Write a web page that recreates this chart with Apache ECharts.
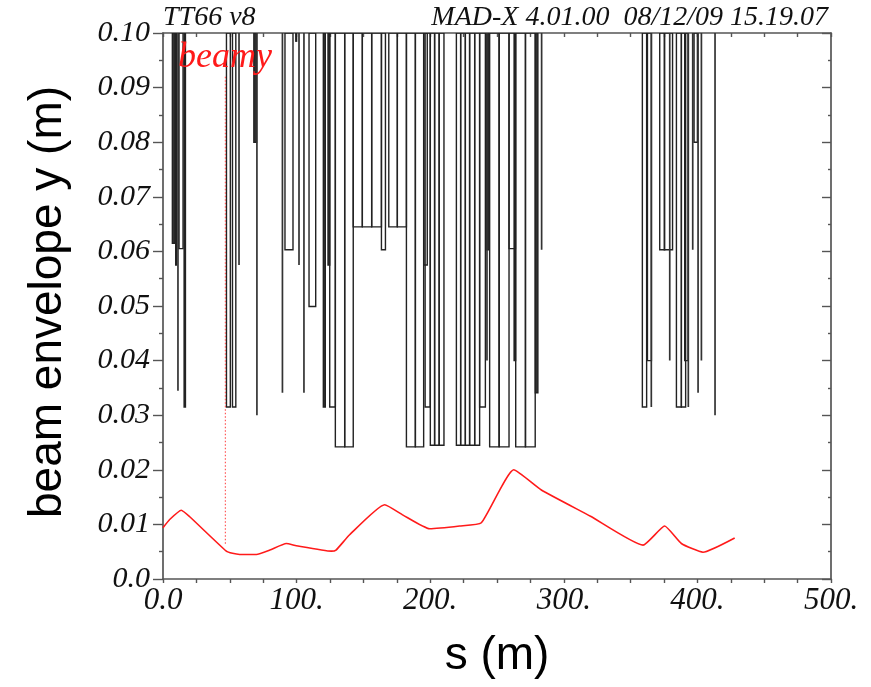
<!DOCTYPE html>
<html>
<head>
<meta charset="utf-8">
<title>TT66 v8 beam envelope y</title>
<script src="https://cdn.jsdelivr.net/npm/echarts@6/dist/echarts.min.js"></script>
<style>
  html, body { margin: 0; padding: 0; background: #fff; }
  #chart { width: 871px; height: 687px; }
</style>
</head>
<body>
<div id="chart"></div>
<script>
// Axis ranges
const sRange = [0, 500];
const yRange = [0, 0.1];

// Beam envelope (beamy) along the line: s (m) and envelope (m)
const beamS = [0, 5, 13.7, 20, 47.4, 52, 57.4, 69.9, 80, 92.3, 99.8, 126, 129.5, 139.7, 165.9, 179.7, 199.6, 222, 238.3, 262.5, 283.2, 320, 359.3, 375.5, 388, 404.2, 427.9];
const beamY = [0.0094, 0.0109, 0.0126, 0.0114, 0.0051, 0.0047, 0.0045, 0.0045, 0.0053, 0.0065, 0.0061, 0.0051, 0.0053, 0.0081, 0.0136, 0.0117, 0.0092, 0.0097, 0.0103, 0.0200, 0.0163, 0.0115, 0.0062, 0.0097, 0.0065, 0.0049, 0.0075];

// Element apertures: start s, end s (m), half aperture y (m)
const apStart = [7.0, 9.5, 11.2, 12.0, 15.8,
  47.5, 52.0, 56.9, 68.0, 70.3,
  89.4, 91.3, 99.4, 101.8, 105.5, 109.3, 120.0, 123.5, 124.8, 129.0, 136.0,
  142.4, 149.2, 156.2, 163.5, 169.0, 175.4, 182.2, 188.9, 195.3, 196.2,
  200.1, 203.3, 206.7, 219.6, 222.8, 226.3, 229.5, 233.3, 237.0, 242.2, 242.5,
  244.5, 251.7, 259.0, 262.8, 264.0, 271.3, 278.7, 283.4,
  358.8, 362.6, 365.5, 371.8, 375.2, 379.3, 384.3, 388.0, 390.5, 393.2, 396.5, 397.5, 400.5, 403.0, 413.2];
const apEnd = [9.0, 10.0, 11.2, 15.0, 16.8,
  50.4, 54.5, 56.9, 70.0, 70.3,
  89.4, 97.3, 100.0, 101.8, 105.5, 114.3, 121.5, 124.8, 129.0, 136.0, 142.4,
  149.2, 156.2, 163.5, 166.5, 175.4, 182.2, 188.9, 195.1, 197.8, 200.0,
  203.3, 206.7, 210.3, 222.8, 226.3, 229.5, 233.3, 237.0, 241.3, 244.2, 242.5,
  251.5, 259.0, 263.8, 263.9, 271.3, 278.6, 280.6, 283.4,
  362.0, 365.6, 365.5, 375.5, 381.4, 379.3, 388.0, 391.2, 393.0, 393.2, 396.5, 400.0, 400.5, 403.0, 413.2];
const apVal = [0.0615, 0.0575, 0.0345, 0.0605, 0.0315,
  0.0315, 0.0315, 0.0575, 0.080, 0.030,
  0.0341, 0.0603, 0.0985, 0.0575, 0.0341, 0.0499, 0.0315, 0.0575, 0.0315, 0.0242, 0.0242,
  0.0645, 0.0645, 0.0645, 0.0603, 0.0645, 0.0645, 0.0242, 0.0242, 0.0575, 0.0315,
  0.0245, 0.0245, 0.0245, 0.0245, 0.0245, 0.0245, 0.0245, 0.0245, 0.0315, 0.0603, 0.040,
  0.0242, 0.0242, 0.0605, 0.040, 0.0242, 0.0242, 0.0341, 0.0603,
  0.0315, 0.040, 0.0315, 0.0603, 0.0603, 0.040, 0.0315, 0.0315, 0.040, 0.0315, 0.0603, 0.080, 0.0341, 0.040, 0.030];

// Leader from the curve label down to the curve
const labelLeadS = [46.7, 46.7];
const labelLeadY = [0.092, 0.0062];

const serif = '"Liberation Serif", "DejaVu Serif", serif';
const sans = '"Liberation Sans", Arial, sans-serif';
const frame = '#555';

const beamData = beamS.map((s, i) => [s, beamY[i]]);
const apData = apStart.map((s, i) => [s, apEnd[i], apVal[i]]);
const leadData = labelLeadS.map((s, i) => [s, labelLeadY[i]]);

const chart = echarts.init(document.getElementById('chart'), null, { renderer: 'canvas' });

function axisCommon(extra) {
  return Object.assign({
    type: 'value',
    axisLine: { show: true, onZero: false, lineStyle: { color: frame, width: 1.7 } },
    splitLine: { show: false }
  }, extra);
}

chart.setOption({
  animation: false,
  backgroundColor: '#fff',
  grid: { left: 163, top: 33, width: 668, height: 546 },
  xAxis: [
    axisCommon({
      position: 'bottom', min: sRange[0], max: sRange[1], interval: 100,
      axisTick: { show: true, inside: false, length: 4, lineStyle: { color: frame, width: 1.4 } },
      minorTick: { show: true, splitNumber: 4, length: 4, lineStyle: { color: frame, width: 1.4 } },
      axisLabel: {
        margin: 6, fontFamily: serif, fontStyle: 'italic', fontSize: 31, color: '#111',
        formatter: v => v === 0 ? '0.0' : v + '.'
      }
    }),
    axisCommon({
      position: 'top', min: sRange[0], max: sRange[1], interval: 100,
      axisTick: { show: true, inside: true, length: 4, lineStyle: { color: frame, width: 1.4 } },
      minorTick: { show: true, splitNumber: 4, length: 4, lineStyle: { color: frame, width: 1.4 } },
      axisLabel: { show: false }
    })
  ],
  yAxis: [
    axisCommon({
      position: 'left', min: yRange[0], max: yRange[1], interval: 0.01,
      axisTick: { show: true, inside: false, length: 10, lineStyle: { color: frame, width: 1.4 } },
      minorTick: { show: true, splitNumber: 2, length: 4, lineStyle: { color: frame, width: 1.4 } },
      axisLabel: {
        margin: 13, fontFamily: serif, fontStyle: 'italic', fontSize: 30, color: '#111',
        formatter: v => v === 0 ? '0.0' : v.toFixed(2)
      }
    }),
    axisCommon({
      position: 'right', min: yRange[0], max: yRange[1], interval: 0.01,
      axisTick: { show: true, inside: true, length: 9, lineStyle: { color: frame, width: 1.4 } },
      minorTick: { show: true, splitNumber: 2, length: 3, lineStyle: { color: frame, width: 1.4 } },
      axisLabel: { show: false }
    })
  ],
  series: [
    {
      // element apertures hanging from the top of the frame
      type: 'custom',
      xAxisIndex: 0, yAxisIndex: 0,
      clip: true,
      encode: { x: [0, 1], y: 2 },
      data: apData,
      renderItem: function (params, api) {
        const top = api.coord([api.value(0), yRange[1]]);
        const bot = api.coord([api.value(1), api.value(2)]);
        const w = bot[0] - top[0];
        if (w < 0.6) {
          return {
            type: 'line',
            shape: { x1: top[0], y1: top[1], x2: top[0], y2: bot[1] },
            style: { stroke: '#333', lineWidth: 1.7 }
          };
        }
        return {
          type: 'rect',
          shape: { x: top[0], y: top[1], width: w, height: bot[1] - top[1] },
          style: { fill: w < 3 ? '#333' : 'none', stroke: '#222', lineWidth: 1.4 }
        };
      },
      z: 2
    },
    {
      type: 'line',
      data: leadData,
      symbol: 'none',
      lineStyle: { color: '#ff5a5a', width: 1.2, type: [1.5, 2] },
      z: 3
    },
    {
      name: 'beamy',
      type: 'line',
      data: beamData,
      symbol: 'none',
      smooth: 0.15,
      lineStyle: { color: '#ff1a1a', width: 1.6 },
      z: 4
    }
  ],
  graphic: [
    {
      type: 'text', left: 163, top: 4, z: 100,
      style: { text: 'TT66 v8', font: 'italic 28px ' + serif, fill: '#111' }
    },
    {
      type: 'text', right: 43, top: 4, z: 100,
      style: { text: 'MAD-X 4.01.00  08/12/09 15.19.07', font: 'italic 28px ' + serif, fill: '#111' }
    },
    {
      type: 'text', x: 178, y: 76, z: 100,
      style: { text: 'beamy', font: 'italic 36px ' + serif, fill: '#ff1a1a', textVerticalAlign: 'bottom' }
    },
    {
      type: 'text', x: 48, y: 302, rotation: Math.PI / 2, z: 100,
      style: { text: 'beam envelope y (m)', font: '46px ' + sans, fill: '#000', textAlign: 'center', textVerticalAlign: 'middle' }
    },
    {
      type: 'text', x: 497, y: 656, z: 100,
      style: { text: 's (m)', font: '46px ' + sans, fill: '#000', textAlign: 'center', textVerticalAlign: 'middle' }
    }
  ]
});
</script>
</body>
</html>
